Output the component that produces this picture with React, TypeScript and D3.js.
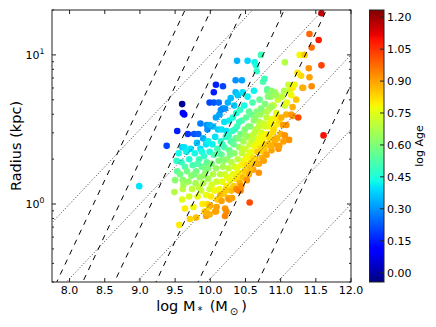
import React, { useRef, useEffect } from "react";
import * as d3 from "d3";

// each galaxy: [log M* (Msun), log Radius (kpc), log Age]
const galaxiesLowMass = [
  [8.99, 0.12, 0.4], [9.38, 0.39, 0.2], [9.49, 0.08, 0.68], [9.5, 0.16, 0.62], [9.52, 0.29, 0.47],
  [9.53, 0.49, 0.15], [9.53, 0.22, 0.55], [9.55, 0.34, 0.43], [9.56, -0.14, 0.8], [9.57, 0.2, 0.58],
  [9.59, 0.28, 0.48], [9.6, 0.67, -0.02], [9.61, 0.61, 0.08], [9.63, 0.6, 0.1], [9.6, 0.38, 0.38],
  [9.63, 0.38, 0.4], [9.61, 0.16, 0.62], [9.61, 0.1, 0.7], [9.6, 0.03, 0.75], [9.62, 0.13, 0.66],
  [9.64, 0.25, 0.52], [9.64, -0.03, 0.8], [9.66, 0.35, 0.42], [9.67, 0.22, 0.58], [9.68, 0.47, 0.18],
  [9.69, 0.15, 0.64], [9.7, 0.3, 0.45], [9.7, 0.05, 0.74], [9.71, -0.1, 0.83], [9.72, 0.37, 0.4],
  [9.73, 0.19, 0.62], [9.74, 0.1, 0.7],
];

const galaxiesMidLow = [
  [9.75, 0.26, 0.52], [9.76, -0.02, 0.78], [9.77, 0.47, 0.22], [9.78, 0.34, 0.43], [9.79, 0.14, 0.66],
  [9.8, -0.09, 0.86], [9.8, 0.22, 0.58], [9.81, 0.41, 0.36], [9.82, 0.05, 0.76], [9.83, 0.47, 0.24],
  [9.84, 0.3, 0.5], [9.85, 0.18, 0.63], [9.86, 0.54, 0.27], [9.86, 0.37, 0.4], [9.87, 0.09, 0.72],
  [9.88, 0.25, 0.56], [9.89, 0.0, 0.8], [9.9, 0.44, 0.35], [9.9, 0.14, 0.68], [9.91, 0.32, 0.48],
  [9.92, -0.05, 0.84], [9.92, 0.25, 0.58], [9.93, 0.21, 0.62], [9.94, 0.4, 0.4], [9.94, 0.06, 0.76],
  [9.94, -0.08, 0.9], [9.95, 0.28, 0.55], [9.95, 0.53, 0.3], [9.95, -0.06, 0.88], [9.96, 0.5, 0.3],
  [9.96, 0.0, 0.82], [9.97, 0.17, 0.66], [9.98, -0.02, 0.82], [9.99, 0.68, 0.2], [9.99, 0.35, 0.45],
  [9.99, 0.1, 0.72], [9.99, 0.53, 0.33], [9.99, -0.07, 0.88], [9.77, 0.2, 0.6], [9.82, 0.27, 0.52],
  [9.84, 0.11, 0.7], [9.88, 0.35, 0.44], [9.91, 0.19, 0.64], [9.97, 0.24, 0.6], [9.97, 0.42, 0.42],
];

const galaxiesMid = [
  [10.0, -0.01, 0.88], [10.01, 0.05, 0.8], [10.02, 0.13, 0.74], [10.02, 0.27, 0.6], [10.03, 0.4, 0.42],
  [10.04, 0.52, 0.35], [10.04, 0.2, 0.68], [10.05, 0.68, 0.22], [10.05, 0.75, 0.15], [10.05, 0.33, 0.52],
  [10.06, 0.09, 0.78], [10.07, -0.05, 0.9], [10.07, 0.45, 0.4], [10.08, 0.8, 0.15], [10.08, 0.58, 0.32],
  [10.08, 0.24, 0.64], [10.09, -0.02, 0.9], [10.09, 0.15, 0.72], [10.1, 0.37, 0.5], [10.1, 0.03, 0.84],
  [10.11, 0.5, 0.38], [10.12, 0.68, 0.25], [10.12, 0.29, 0.6], [10.13, 0.6, 0.32], [10.13, 0.1, 0.78],
  [10.14, 0.2, 0.7], [10.15, 0.63, 0.3], [10.15, 0.42, 0.46], [10.16, 0.5, 0.4], [10.16, 0.02, 0.9],
  [10.16, 0.33, 0.56], [10.17, 0.15, 0.76], [10.18, 0.79, 0.2], [10.18, 0.64, 0.28], [10.18, 0.25, 0.66],
  [10.19, 0.07, 0.84], [10.2, 0.38, 0.52], [10.21, 0.64, 0.3], [10.21, -0.03, 0.92], [10.21, -0.08, 0.94],
  [10.21, 0.2, 0.72], [10.22, 0.45, 0.46], [10.23, 0.49, 0.4], [10.23, -0.05, 0.93], [10.23, 0.12, 0.8],
  [10.24, 0.3, 0.62], [10.25, 0.68, 0.34], [10.25, 0.04, 0.88], [10.26, 0.24, 0.7], [10.27, 0.56, 0.42],
  [10.27, 0.03, 0.92], [10.27, 0.36, 0.56], [10.28, 0.16, 0.78], [10.29, 0.71, 0.35], [10.29, 0.42, 0.52],
  [10.3, 0.09, 0.86], [10.3, 0.28, 0.68], [10.31, 0.49, 0.48], [10.32, 0.58, 0.45], [10.32, 0.2, 0.76],
  [10.33, 0.12, 0.84], [10.34, 0.66, 0.37], [10.34, 0.34, 0.62], [10.35, 0.25, 0.72], [10.36, 0.75, 0.35],
  [10.36, 0.83, 0.3], [10.36, 0.44, 0.56], [10.37, 0.61, 0.45], [10.37, 0.1, 0.93], [10.37, 0.17, 0.82],
  [10.38, 0.96, 0.34], [10.38, 0.52, 0.5], [10.39, 0.73, 0.37], [10.39, 0.3, 0.7], [10.4, 0.09, 0.95],
  [10.4, 0.21, 0.8], [10.41, 0.38, 0.64], [10.42, 0.63, 0.48], [10.42, 0.14, 0.88], [10.43, 0.09, 0.95],
  [10.43, 0.47, 0.58], [10.44, 0.26, 0.78], [10.45, 0.83, 0.32], [10.45, 0.56, 0.52], [10.45, 0.34, 0.7],
  [10.46, 0.75, 0.4], [10.46, 0.18, 0.86], [10.47, 0.42, 0.66], [10.48, 0.66, 0.44], [10.48, 0.29, 0.76],
  [10.49, 0.5, 0.6], [10.49, 0.22, 0.84], [10.26, 0.46, 0.48], [10.28, 0.33, 0.6], [10.31, 0.04, 0.9],
  [10.33, 0.4, 0.56], [10.35, 0.5, 0.48], [10.38, 0.24, 0.76], [10.4, 0.44, 0.6], [10.41, 0.55, 0.5],
  [10.44, 0.12, 0.92], [10.46, 0.37, 0.7], [10.47, 0.27, 0.8], [10.12, 0.34, 0.54], [10.14, 0.06, 0.86],
  [10.17, 0.4, 0.5], [10.19, 0.29, 0.62], [10.2, 0.55, 0.4], [10.22, 0.09, 0.84], [10.24, 0.18, 0.76],
  [10.08, -0.05, 0.9],
];

const galaxiesMidHigh = [
  [10.5, 0.37, 0.72], [10.51, 0.58, 0.55], [10.52, 0.26, 0.82], [10.53, 0.96, 0.38], [10.53, 0.72, 0.42],
  [10.53, 0.45, 0.66], [10.54, 0.32, 0.78], [10.55, 0.2, 0.88], [10.55, 0.62, 0.55], [10.56, 0.01, 1.02],
  [10.56, 0.4, 0.72], [10.57, 0.52, 0.62], [10.58, 0.28, 0.84], [10.59, 0.35, 0.78], [10.6, 0.68, 0.52],
  [10.6, 0.46, 0.7], [10.61, 0.23, 0.9], [10.62, 0.76, 0.42], [10.62, 0.56, 0.62], [10.63, 0.95, 0.42],
  [10.63, 0.39, 0.78], [10.64, 0.3, 0.86], [10.65, 0.93, 0.44], [10.65, 0.5, 0.68], [10.66, 0.89, 0.48],
  [10.66, 0.62, 0.6], [10.67, 0.35, 0.84], [10.68, 0.44, 0.76], [10.69, 0.27, 0.9], [10.7, 0.55, 0.68],
  [10.7, 0.7, 0.56], [10.71, 0.39, 0.82], [10.72, 1.0, 0.5], [10.72, 0.48, 0.74], [10.73, 0.31, 0.88],
  [10.74, 0.62, 0.64], [10.75, 0.82, 0.52], [10.75, 0.42, 0.8], [10.76, 0.54, 0.72], [10.77, 0.84, 0.5],
  [10.77, 0.35, 0.86], [10.78, 0.67, 0.6], [10.79, 0.47, 0.78], [10.8, 0.58, 0.7], [10.8, 0.33, 0.9],
  [10.81, 0.76, 0.58], [10.82, 0.4, 0.86], [10.83, 0.52, 0.76], [10.84, 0.64, 0.68], [10.85, 0.44, 0.84],
  [10.86, 0.72, 0.64], [10.87, 0.36, 0.9], [10.88, 0.57, 0.76], [10.89, 0.48, 0.82], [10.9, 0.66, 0.72],
  [10.91, 0.4, 0.9], [10.92, 0.75, 0.66], [10.93, 0.53, 0.8], [10.94, 0.61, 0.76], [10.95, 0.44, 0.88],
  [10.96, 0.7, 0.72], [10.97, 0.37, 0.92], [10.98, 0.56, 0.82], [10.98, 0.39, 0.9], [10.5, 0.46, 0.64],
  [10.51, 0.31, 0.78], [10.52, 0.16, 0.92], [10.54, 0.52, 0.6], [10.56, 0.34, 0.76], [10.57, 0.24, 0.86],
  [10.58, 0.6, 0.56], [10.59, 0.43, 0.7], [10.61, 0.31, 0.82], [10.63, 0.48, 0.7], [10.64, 0.58, 0.62],
  [10.66, 0.27, 0.88], [10.67, 0.41, 0.78], [10.69, 0.52, 0.7], [10.69, 0.21, 0.92], [10.71, 0.6, 0.64],
  [10.72, 0.36, 0.84], [10.74, 0.45, 0.78], [10.76, 0.29, 0.9], [10.78, 0.52, 0.74], [10.79, 0.39, 0.84],
  [10.81, 0.62, 0.68], [10.83, 0.45, 0.82], [10.85, 0.55, 0.78], [10.86, 0.39, 0.88], [10.88, 0.66, 0.7],
  [10.9, 0.5, 0.82], [10.92, 0.43, 0.88], [10.94, 0.58, 0.8], [10.81, 0.77, 0.55], [10.87, 0.76, 0.62],
  [10.82, 0.72, 0.62], [10.94, 0.73, 0.65], [10.72, 0.64, 0.6], [10.87, 0.65, 0.65],
];

const galaxiesHighMass = [
  [11.0, 0.47, 0.88], [11.01, 0.58, 0.88], [11.02, 0.72, 0.7], [11.03, 0.53, 0.9], [11.04, 0.42, 0.9],
  [11.05, 0.76, 0.68], [11.06, 0.95, 0.68], [11.06, 0.66, 0.72], [11.06, 0.46, 0.92], [11.08, 0.6, 0.88],
  [11.08, 0.53, 0.92], [11.09, 0.68, 0.76], [11.11, 0.8, 0.72], [11.12, 0.43, 0.92], [11.13, 0.76, 0.72],
  [11.15, 0.6, 0.9], [11.15, 0.73, 0.78], [11.17, 0.78, 0.8], [11.17, 0.59, 0.92], [11.17, 0.65, 0.88],
  [11.2, 0.8, 0.78], [11.22, 0.7, 0.85], [11.24, 0.88, 0.8], [11.25, 0.58, 1.02], [11.27, 1.0, 0.78],
  [11.29, 0.86, 0.82], [11.31, 0.78, 0.92], [11.32, 0.78, 0.88], [11.34, 1.0, 0.85], [11.4, 0.91, 0.92],
  [11.41, 1.14, 0.98], [11.41, 0.85, 0.9], [11.44, 1.05, 0.97], [11.44, 0.79, 0.93], [11.54, 1.1, 1.08],
  [11.58, 0.93, 1.03], [11.58, 1.28, 1.15], [11.61, 0.46, 1.1],
];

const massTicks = [8.0, 8.5, 9.0, 9.5, 10.0, 10.5, 11.0, 11.5, 12.0];
const radiusMajorTicks = [1, 10];
const radiusMinorTicks = [0.3, 0.4, 0.5, 0.6, 0.7, 0.8, 0.9, 2, 3, 4, 5, 6, 7, 8, 9, 20];
const ageTicks = [0.0, 0.15, 0.3, 0.45, 0.6, 0.75, 0.9, 1.05, 1.2];

// reference lines: dashed keep log M - log R fixed, dotted keep log M - 2 log R fixed
const dashedOffsets = [8.34, 8.71, 9.16, 9.75, 10.35, 11.2];
const dottedOffsets = [8, 9, 10, 11, 12];

const W = 436;
const H = 327;
const plot = { left: 52, right: 351, top: 10, bottom: 282 };
const cbar = { left: 369.5, right: 384, top: 10, bottom: 282 };
const FONT = "'DejaVu Sans', sans-serif";

// matplotlib "jet"
const jetR = d3.scaleLinear().domain([0, 0.35, 0.66, 0.89, 1]).range([0, 0, 1, 1, 0.5]).clamp(true);
const jetG = d3.scaleLinear().domain([0, 0.125, 0.375, 0.64, 0.91, 1]).range([0, 0, 1, 1, 0, 0]).clamp(true);
const jetB = d3.scaleLinear().domain([0, 0.11, 0.34, 0.65, 1]).range([0.5, 1, 1, 0, 0]).clamp(true);
const jet = (t: number) => d3.rgb(jetR(t) * 255, jetG(t) * 255, jetB(t) * 255).formatHex();

const App = () => {
  const svgRef = useRef<SVGSVGElement | null>(null);

  useEffect(() => {
    const svg = d3.select(svgRef.current);
    svg.selectAll("*").remove();

    const x = d3.scaleLinear().domain([7.75, 12]).range([plot.left, plot.right]);
    const y = d3.scaleLog().domain([0.3, 20]).range([plot.bottom, plot.top]);
    const ageNorm = d3.scaleLinear().domain([-0.044, 1.234]).range([0, 1]).clamp(true);
    const ageY = d3.scaleLinear().domain([-0.044, 1.234]).range([cbar.bottom, cbar.top]);

    const defs = svg.append("defs");
    defs.append("clipPath").attr("id", "plot-clip")
      .append("rect")
      .attr("x", plot.left).attr("y", plot.top)
      .attr("width", plot.right - plot.left).attr("height", plot.bottom - plot.top);

    const grad = defs.append("linearGradient").attr("id", "jet-grad")
      .attr("x1", 0).attr("y1", 1).attr("x2", 0).attr("y2", 0);
    d3.range(101).map(i => i / 100).forEach(t => {
      grad.append("stop").attr("offset", t).attr("stop-color", jet(t));
    });

    // scatter
    const points = [...galaxiesLowMass, ...galaxiesMidLow, ...galaxiesMid, ...galaxiesMidHigh, ...galaxiesHighMass];
    svg.append("g")
      .attr("clip-path", "url(#plot-clip)")
      .selectAll("circle")
      .data(points)
      .join("circle")
      .attr("cx", d => x(d[0]))
      .attr("cy", d => y(Math.pow(10, d[1])))
      .attr("r", 3.3)
      .attr("fill", d => jet(ageNorm(d[2])));

    // reference lines over the points
    const lineGen = d3.line<number[]>().x(d => x(d[0])).y(d => y(Math.pow(10, d[1])));
    const massSpan = [7.0, 13.0];
    const lines = svg.append("g").attr("clip-path", "url(#plot-clip)").attr("fill", "none");
    dashedOffsets.forEach(k => {
      lines.append("path")
        .attr("d", lineGen(massSpan.map(m => [m, m - k])))
        .attr("stroke", "#000")
        .attr("stroke-width", 1)
        .attr("stroke-dasharray", "5.5,5.5");
    });
    dottedOffsets.forEach(k => {
      lines.append("path")
        .attr("d", lineGen(massSpan.map(m => [m, (m - k) / 2])))
        .attr("stroke", "#222")
        .attr("stroke-width", 0.9)
        .attr("stroke-dasharray", "1,2");
    });

    // frame
    svg.append("rect")
      .attr("x", plot.left).attr("y", plot.top)
      .attr("width", plot.right - plot.left).attr("height", plot.bottom - plot.top)
      .attr("fill", "none").attr("stroke", "#222").attr("stroke-width", 1);

    // ticks (inward, all four sides)
    const ticks = svg.append("g").attr("stroke", "#222").attr("stroke-width", 1);
    massTicks.forEach(m => {
      ticks.append("line").attr("x1", x(m)).attr("x2", x(m)).attr("y1", plot.bottom).attr("y2", plot.bottom - 4);
      ticks.append("line").attr("x1", x(m)).attr("x2", x(m)).attr("y1", plot.top).attr("y2", plot.top + 4);
    });
    const yTick = (v: number, len: number) => {
      ticks.append("line").attr("x1", plot.left).attr("x2", plot.left + len).attr("y1", y(v)).attr("y2", y(v));
      ticks.append("line").attr("x1", plot.right).attr("x2", plot.right - len).attr("y1", y(v)).attr("y2", y(v));
    };
    radiusMajorTicks.forEach(v => yTick(v, 4));
    radiusMinorTicks.forEach(v => yTick(v, 2));

    svg.append("g").selectAll("text")
      .data(massTicks)
      .join("text")
      .attr("x", d => x(d))
      .attr("y", plot.bottom + 11.8)
      .attr("text-anchor", "middle")
      .attr("font-family", FONT)
      .attr("font-size", 11)
      .text(d => d.toFixed(1));

    radiusMajorTicks.forEach(v => {
      const t = svg.append("text")
        .attr("x", 44.5)
        .attr("y", y(v) + 4)
        .attr("text-anchor", "end")
        .attr("font-family", FONT)
        .attr("font-size", 11);
      t.append("tspan").text("10");
      t.append("tspan").attr("dy", -5.3).attr("font-size", 7.7).text(String(Math.round(Math.log10(v))));
    });

    // axis titles
    svg.append("text")
      .attr("transform", `translate(20.5,${(plot.top + plot.bottom) / 2}) rotate(-90)`)
      .attr("text-anchor", "middle")
      .attr("font-family", FONT)
      .attr("font-size", 14.5)
      .text("Radius (kpc)");

    const xl = svg.append("text")
      .attr("x", (plot.left + plot.right) / 2)
      .attr("y", 311)
      .attr("text-anchor", "middle")
      .attr("font-family", FONT)
      .attr("font-size", 14.5);
    xl.append("tspan").text("log M");
    xl.append("tspan").attr("dy", 2.5).attr("font-size", 10).text("\u2009*");
    xl.append("tspan").attr("dy", -2.5).text("\u2002(M");
    xl.append("tspan").attr("dy", 3.5).attr("font-size", 10).text("\u2009\u2299");
    xl.append("tspan").attr("dy", -3.5).text("\u2009)");

    // colorbar
    svg.append("rect")
      .attr("x", cbar.left).attr("y", cbar.top)
      .attr("width", cbar.right - cbar.left).attr("height", cbar.bottom - cbar.top)
      .attr("fill", "url(#jet-grad)")
      .attr("stroke", "#222").attr("stroke-width", 1);

    ageTicks.forEach(a => {
      svg.append("line")
        .attr("x1", cbar.right).attr("x2", cbar.right - 4)
        .attr("y1", ageY(a)).attr("y2", ageY(a))
        .attr("stroke", "#222").attr("stroke-width", 1);
    });
    svg.append("g").selectAll("text")
      .data(ageTicks)
      .join("text")
      .attr("x", cbar.right + 3)
      .attr("y", d => ageY(d) + 4.2)
      .attr("font-family", FONT)
      .attr("font-size", 11)
      .text(d => d.toFixed(2));

    svg.append("text")
      .attr("transform", `translate(423,${(cbar.top + cbar.bottom) / 2}) rotate(-90)`)
      .attr("text-anchor", "middle")
      .attr("font-family", FONT)
      .attr("font-size", 11)
      .text("log Age");
  }, []);

  return (
    <div style={{ position: "fixed", left: 0, top: 0, width: W, height: H, background: "#fff" }}>
      <svg ref={svgRef} width={W} height={H} />
    </div>
  );
};

export default App;
